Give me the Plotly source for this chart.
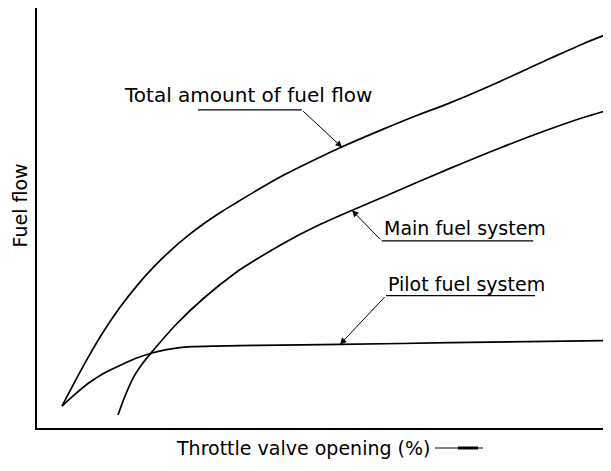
import plotly.graph_objects as go

# ---- data (throttle valve opening %, fuel flow in arbitrary % units) ----
total_x = [4.36, 6.97, 9.23, 11.62, 14.46, 17.42, 20.30, 23.22, 26.13, 29.04, 31.88, 34.84,
           38.85, 42.91, 48.73, 53.36, 60.33, 66.15, 71.95, 80.66, 89.37, 95.17, 99.53]
total_y = [5.23, 12.00, 17.62, 23.09, 28.81, 33.99, 38.38, 42.30, 45.72, 48.74, 51.38, 53.87,
           57.15, 60.31, 64.28, 67.24, 71.33, 74.58, 77.60, 82.71, 88.17, 91.73, 94.11]

main_x = [14.11, 15.33, 16.85, 18.29, 20.03, 24.39, 29.04, 34.84, 37.11, 42.91, 48.73, 54.83,
          60.33, 66.15, 71.95, 80.66, 89.37, 95.17, 99.83]
main_y = [3.09, 7.60, 12.19, 15.20, 18.17, 24.94, 30.97, 37.29, 39.31, 44.06, 48.19, 51.92,
          55.15, 58.57, 61.97, 66.84, 71.35, 74.11, 76.01]

pilot_x = [4.36, 6.45, 8.71, 11.50, 14.51, 17.25, 20.03, 22.30, 24.56, 27.00, 31.01, 38.33,
           52.79, 71.95, 100.0]
pilot_y = [5.23, 7.84, 10.45, 12.95, 14.96, 16.63, 17.89, 18.65, 19.14, 19.40, 19.55, 19.71,
           19.95, 20.36, 20.90]

labels = ["Total amount of fuel flow", "Main fuel system", "Pilot fuel system"]
x_title = "Throttle valve opening (%)"
y_title = "Fuel flow"

FAMILY = "DejaVu Sans, Verdana, sans-serif"
FONT = dict(family=FAMILY, size=19, color="black")

fig = go.Figure()
for xs, ys in [(total_x, total_y), (main_x, main_y), (pilot_x, pilot_y)]:
    fig.add_trace(go.Scatter(x=xs, y=ys, mode="lines",
                             line=dict(color="black", width=1.7, shape="spline", smoothing=0.8),
                             hoverinfo="skip", showlegend=False))

# label text, leader (tip <- elbow) and underline for each series
callouts = [
    # text x, text y, tip x, tip y, elbow x, elbow y, underline x0, x1, font size
    (36.76, 79.45, 53.14, 66.98, 46.11, 75.94, 28.05, 46.11, 20),
    (74.56, 47.62, 54.88, 51.95, 60.05, 44.66, 60.05, 86.46, 19),
    (74.86, 34.44, 52.79, 19.95, 60.80, 31.59, 60.80, 86.76, 19),
]
for lab, (tx, ty, px, py, ex, ey, u0, u1, fs) in zip(labels, callouts):
    fig.add_annotation(x=tx, y=ty, xref="x", yref="y", text=lab, showarrow=False,
                       xanchor="center", yanchor="middle",
                       font=dict(family=FAMILY, size=fs, color="black"))
    fig.add_annotation(x=px, y=py, ax=ex, ay=ey, xref="x", yref="y", axref="x", ayref="y",
                       text="", showarrow=True, arrowhead=2, arrowsize=1.3, arrowwidth=1,
                       arrowcolor="black", standoff=0)
    fig.add_shape(type="line", xref="x", yref="y", x0=u0, x1=u1, y0=ey, y1=ey,
                  line=dict(color="black", width=1.2))

# axis titles
fig.add_annotation(x=-0.0305, y=0.531, xref="paper", yref="paper", text=y_title, textangle=-90,
                   showarrow=False, xanchor="center", yanchor="middle", font=FONT)
fig.add_annotation(x=0.4634, y=-0.0476, xref="paper", yref="paper", text=x_title,
                   showarrow=False, xanchor="center", yanchor="middle", font=FONT)
fig.add_shape(type="line", xref="paper", yref="paper", x0=0.6934, x1=0.777, y0=-0.0476, y1=-0.0476,
              line=dict(color="black", width=1.2))
fig.add_shape(type="line", xref="paper", yref="paper", x0=0.7334, x1=0.7683, y0=-0.0476, y1=-0.0476,
              line=dict(color="black", width=3))

axis_common = dict(showline=True, linecolor="black", linewidth=2, showgrid=False, zeroline=False,
                   showticklabels=False, ticks="", fixedrange=True)
fig.update_layout(
    # page body has an 8px default margin; size/margins chosen so the plot lands on the reference
    width=603, height=463,
    margin=dict(l=29, r=0, t=0, b=43),
    paper_bgcolor="white", plot_bgcolor="white",
    xaxis=dict(axis_common, range=[0, 100]),
    yaxis=dict(axis_common, range=[0, 100.24]),
    showlegend=False,
)

fig.write_html("out.html", config={"displayModeBar": False})
